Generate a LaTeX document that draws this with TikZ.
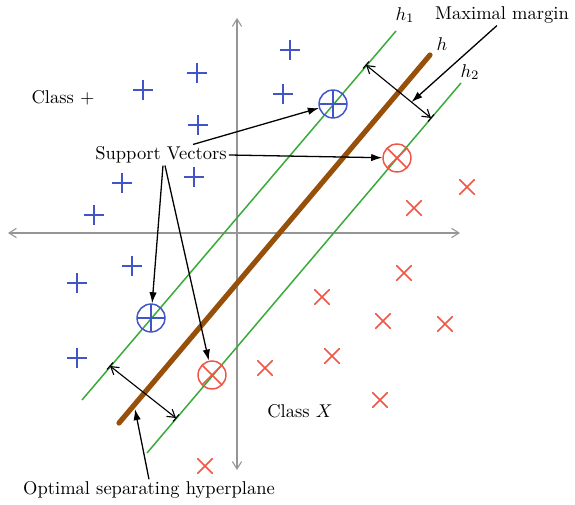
\documentclass[tikz,border=0pt]{standalone}
\usepackage{xcolor}
\usepackage{amsmath}
\usepackage{tikz}
\usetikzlibrary{calc,arrows.meta}
\definecolor{plusblue}{RGB}{65, 85, 200}
\definecolor{crossred}{RGB}{240, 85, 70}
\definecolor{margingreen}{RGB}{55, 170, 55}
\definecolor{planebrown}{RGB}{150, 80, 10}
\definecolor{axisgray}{RGB}{150, 150, 150}

\begin{document}
\begin{tikzpicture}[
  x=0.19mm, y=-0.19mm,
  axis/.style={axisgray, line width=0.6pt,
    {Straight Barb[length=4pt,width=5pt]}-{Straight Barb[length=4pt,width=5pt]}},
  bound/.style={margingreen, line width=0.8pt},
  plane/.style={planebrown, line width=2.8pt, line cap=round},
  gap/.style={line width=0.6pt,
    {Straight Barb[length=4pt,width=5pt]}-{Straight Barb[length=4pt,width=5pt]}},
  pointer/.style={line width=0.7pt, -{Latex[length=6pt,width=4pt]}},
  label/.style={inner sep=1pt},
  plusmark/.style={minimum size=3.8mm, inner sep=0pt,
    path picture={\draw[plusblue, line width=0.8pt]
      (path picture bounding box.north) -- (path picture bounding box.south)
      (path picture bounding box.west) -- (path picture bounding box.east);}},
  crossmark/.style={minimum size=3mm, inner sep=0pt,
    path picture={\draw[crossred, line width=0.8pt]
      (path picture bounding box.north west) -- (path picture bounding box.south east)
      (path picture bounding box.south west) -- (path picture bounding box.north east);}},
  svmark/.style={circle, minimum size=5.3mm, line width=0.8pt}
]
  \useasboundingbox (0,0) rectangle (575,505);

  \coordinate (xl) at (8,233);
  \coordinate (xr) at (460,233);
  \coordinate (yt) at (237,18);
  \coordinate (yb) at (237,470);
  \draw[axis] (xl) -- (xr);
  \draw[axis] (yt) -- (yb);

  \coordinate (h1s) at (82,400);
  \coordinate (h1e) at (396,31);
  \coordinate (hs) at (119,423);
  \coordinate (he) at (430,55);
  \coordinate (h2s) at (147,453);
  \coordinate (h2e) at (461,83);
  \draw[bound] (h1s) -- (h1e);
  \draw[bound] (h2s) -- (h2e);
  \draw[plane] (hs) -- (he);

  \node[label] (lh1) at (405,15) {$h_1$};
  \node[label] (lh) at (442,44) {$h$};
  \node[label] (lh2) at (470,72) {$h_2$};

  \foreach \px/\py [count=\i] in {290/50, 197/73, 143/90, 283/94, 198/125, 194/177,
      122/183, 94/215, 132/266, 77/283, 77/358}
    \node[plusmark] (plus\i) at (\px,\py) {};
  \foreach \px/\py [count=\i] in {467/187, 414/208, 404/273, 322/297, 383/321, 445/324,
      332/356, 380/400, 265/368, 205/466}
    \node[crossmark] (cross\i) at (\px,\py) {};

  \node[plusmark, svmark, draw=plusblue] (sva) at (333,104) {};
  \node[plusmark, svmark, draw=plusblue] (svb) at (151,318) {};
  \node[crossmark, svmark, draw=crossred] (svc) at (397,158) {};
  \node[crossmark, svmark, draw=crossred] (svd) at (212,375) {};

  \coordinate (ma1) at (366,65);
  \coordinate (ma2) at (431,118);
  \coordinate (mb1) at (110,366);
  \coordinate (mb2) at (176,418);
  \draw[gap] (ma1) -- (ma2);
  \draw[gap] (mb1) -- (mb2);
  \foreach \c in {ma1,ma2,mb1,mb2}
    \draw[line width=0.6pt] ($(\c)+(-3,3.5)$) -- ($(\c)+(3,-3.5)$);

  \node[label] (cplus) at (63,98) {Class $+$};
  \node[label] (cx) at (300,411) {Class $X$};

  \node[label] (mm) at (502,15) {Maximal margin};
  \coordinate (mmid) at ($(ma1)!0.7!(ma2)$);
  \draw[pointer] ($(mm.south)+(-5,0)$) -- (mmid);

  \node[label] (sv) at (161,155) {Support Vectors};
  \draw[pointer] ($(sv.north)+(32,0)$) -- (sva);
  \draw[pointer] (sv.east) -- (svc);
  \draw[pointer] ($(sv.south)+(2,0)$) -- (svb);
  \draw[pointer] ($(sv.south)+(4,0)$) -- (svd);

  \node[label] (osh) at (149,490) {Optimal separating hyperplane};
  \coordinate (hfoot) at (135,409);
  \draw[pointer] (osh.north) -- (hfoot);
\end{tikzpicture}
\end{document}
